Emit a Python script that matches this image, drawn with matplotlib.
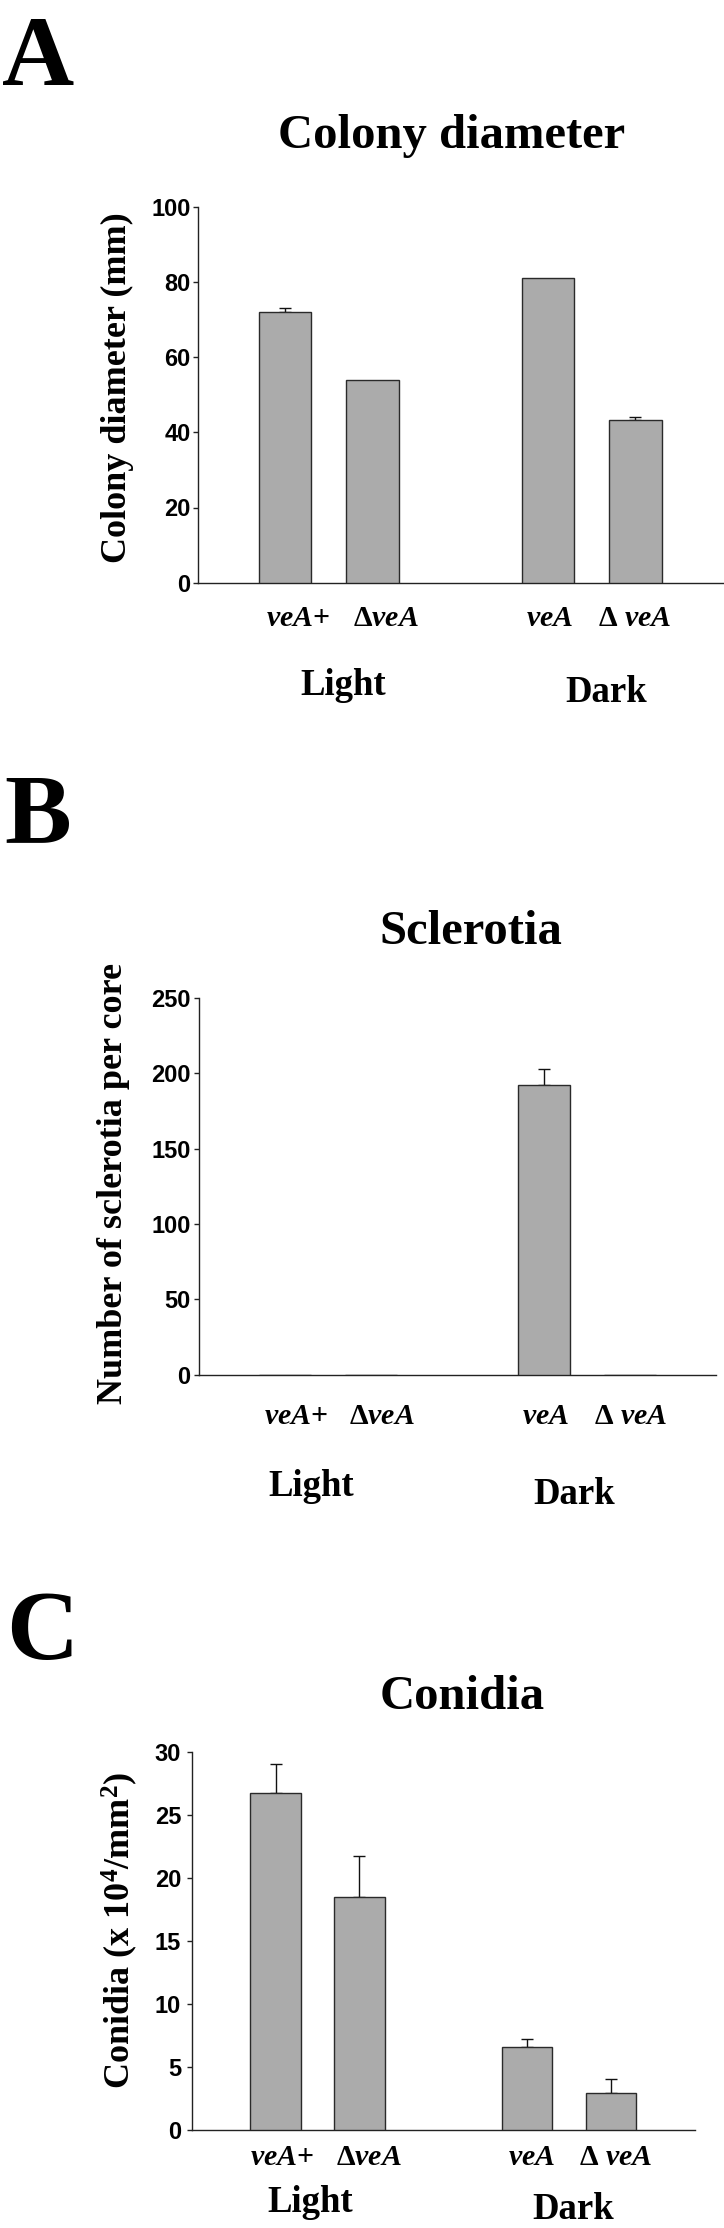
import matplotlib
matplotlib.use("Agg")
import matplotlib.pyplot as plt
from matplotlib.transforms import blended_transform_factory

plt.rcParams["mathtext.fontset"] = "custom"
plt.rcParams["mathtext.it"] = "Liberation Serif:italic:bold"
plt.rcParams["mathtext.rm"] = "Liberation Serif:bold"
plt.rcParams["mathtext.bf"] = "Liberation Serif:bold"

# ---------------- data ----------------
categories = ["$\\mathit{veA}$+", "\u0394$\\mathit{veA}$", "$\\mathit{veA}$", "\u0394 $\\mathit{veA}$"]
groups = ["Light", "Dark"]

colony_diameter = [72.0, 54.0, 81.0, 43.2]
colony_diameter_err = [1.0, 0.0, 0.0, 0.8]

sclerotia = [0.0, 0.0, 192.0, 0.0]
sclerotia_err = [0.0, 0.0, 11.0, 0.0]

conidia = [26.7, 18.5, 6.55, 2.96]
conidia_err = [2.35, 3.25, 0.65, 1.08]

colony_ticks = [0, 20, 40, 60, 80, 100]
sclerotia_ticks = [0, 50, 100, 150, 200, 250]
conidia_ticks = [0, 5, 10, 15, 20, 25, 30]

# ---------------- layout ----------------
W, H = 724, 2228
fig = plt.figure(figsize=(W / 100, H / 100), dpi=100)

SERIF = ["Liberation Serif", "DejaVu Serif"]
SANS = ["Liberation Sans", "DejaVu Sans"]
BAR_FILL = "#ababab"
BAR_EDGE = "#2a2a2a"
bar_pos = [1, 2, 4, 5]
PT = 72 / 100  # points per pixel


def fx(px):
    return px / W


def fy(py):
    return 1 - py / H


panels = [
    dict(letter="A", letter_xy=(2, 85), title="Colony diameter", title_xy=(452, 148),
         ylabel="Colony diameter (mm)", ylabel_xy=(117, 388),
         box=(197.5, 723, 206.7, 582.7), vals=colony_diameter, errs=colony_diameter_err,
         ticks=colony_ticks, tpad=1.5, cat_dy=43, cat_dx=(13, 13, 2, -1),
         groups_x=(1.66, 4.67), groups_y=(695, 702)),
    dict(letter="B", letter_xy=(4, 842), title="Sclerotia", title_xy=(471, 944),
         ylabel="Number of sclerotia per core", ylabel_xy=(114, 1184),
         box=(199, 716, 997.8, 1374.9), vals=sclerotia, errs=sclerotia_err,
         ticks=sclerotia_ticks, tpad=2.5, cat_dy=49, cat_dx=(11, 11, 2, 1),
         groups_x=(1.30, 4.36), groups_y=(1496, 1504)),
    dict(letter="C", letter_xy=(6, 1659), title="Conidia", title_xy=(462, 1709),
         ylabel="Conidia (x 10$^{\\mathregular{4}}$/mm$^{\\mathregular{2}}$)", ylabel_xy=(120, 1930),
         box=(191.7, 695, 1751.7, 2130), vals=conidia, errs=conidia_err,
         ticks=conidia_ticks, tpad=4.0, cat_dy=35, cat_dx=(6, 10, 4, 5),
         groups_x=(1.41, 4.55), groups_y=(2212, 2219)),
]

for p in panels:
    l, r, t, b = p["box"]
    ax = fig.add_axes([fx(l), fy(b), fx(r - l), (b - t) / H])
    ax.bar(bar_pos, p["vals"], width=0.6, color=BAR_FILL, edgecolor=BAR_EDGE,
           linewidth=1.0, zorder=3)
    ex = [x for x, e in zip(bar_pos, p["errs"]) if e > 0]
    ev = [v for v, e in zip(p["vals"], p["errs"]) if e > 0]
    ee = [e for e in p["errs"] if e > 0]
    if ex:
        ax.errorbar(ex, ev, yerr=[[0] * len(ee), ee], fmt="none", ecolor="#111111",
                    elinewidth=1.0, capsize=4, capthick=1.0, zorder=2)
    ax.set_xlim(0, 6)
    ax.set_ylim(p["ticks"][0], p["ticks"][-1])
    ax.set_yticks(p["ticks"])
    ax.set_yticklabels([str(t_) for t_ in p["ticks"]], fontfamily=SANS,
                       fontweight="bold", fontsize=17)
    ax.set_xticks([])
    ax.tick_params(axis="y", direction="out", length=3.6, width=1.0, pad=p["tpad"],
                   color="#222222")
    for s in ("top", "right"):
        ax.spines[s].set_visible(False)
    for s in ("left", "bottom"):
        ax.spines[s].set_linewidth(1.0)
        ax.spines[s].set_color("#222222")
    ax.patch.set_alpha(0)

    # category labels under each bar
    for x, c, dx in zip(bar_pos, categories, p["cat_dx"]):
        ax.annotate(c, xy=(x, 0), xycoords=("data", "axes fraction"),
                    xytext=(dx * PT, -p["cat_dy"] * PT), textcoords="offset points",
                    ha="center", va="baseline", fontfamily=SERIF, fontweight="bold",
                    fontsize=21.5, annotation_clip=False)

    tr = blended_transform_factory(ax.transData, fig.transFigure)
    for g, gx, gy in zip(groups, p["groups_x"], p["groups_y"]):
        ax.text(gx, fy(gy), g, transform=tr, ha="center", va="baseline",
                fontfamily=SERIF, fontweight="bold", fontsize=26.5, clip_on=False)

    fig.text(fx(p["letter_xy"][0]), fy(p["letter_xy"][1]), p["letter"], ha="left",
             va="baseline", fontfamily=SERIF, fontweight="bold", fontsize=72)
    fig.text(fx(p["title_xy"][0]), fy(p["title_xy"][1]), p["title"], ha="center",
             va="baseline", fontfamily=SERIF, fontweight="bold", fontsize=35)
    fig.text(fx(p["ylabel_xy"][0]), fy(p["ylabel_xy"][1]), p["ylabel"], ha="center",
             va="center", rotation=90, fontfamily=SERIF, fontweight="bold", fontsize=26)

fig.savefig("out.png", dpi=100, facecolor="white")
